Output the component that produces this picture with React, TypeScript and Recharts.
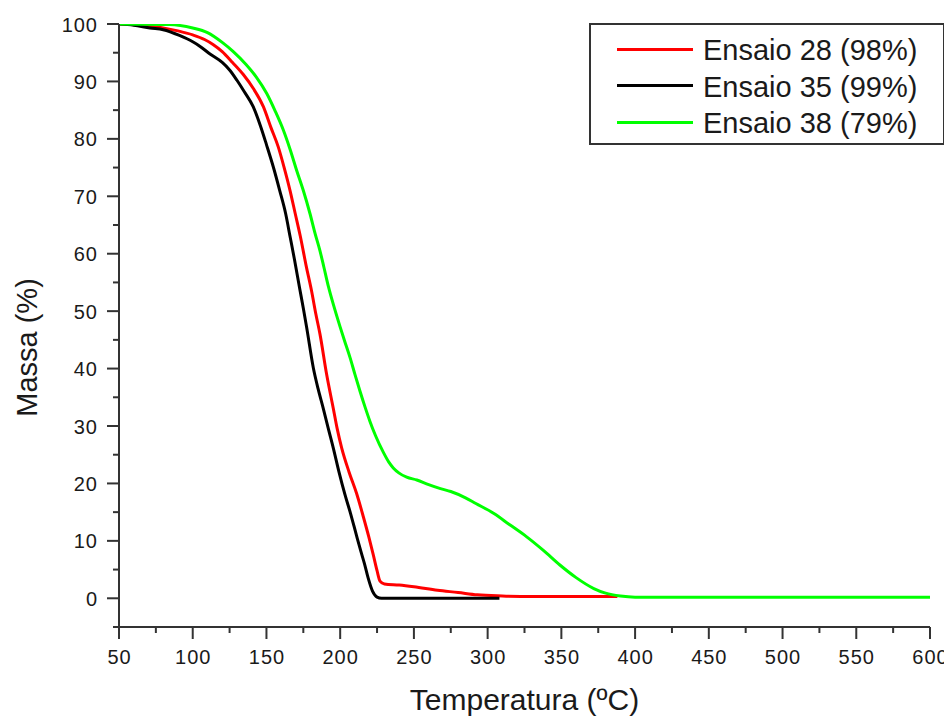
import React from 'react';
import { LineChart, Line, XAxis, YAxis, Legend, Label } from 'recharts';

const ensaio28T = [50, 70, 90, 100, 108, 114, 120, 127, 134.3, 141, 147.9, 153, 158, 162, 166, 169.5, 173, 177, 180.6, 183.5, 186.3, 190.8, 195.3, 198, 201, 206, 211.2, 215.7, 219.5, 222.5, 225, 227, 230, 240, 250, 266, 280, 293, 310, 330, 388];
const ensaio28M = [100, 99.7, 98.8, 98.1, 97.3, 96.4, 95.2, 93.3, 91.2, 88.8, 85.6, 82, 78.6, 75, 71, 67, 63, 57.8, 53.5, 49.5, 46, 39, 33.1, 29.5, 26.2, 22, 18.2, 14.2, 10.6, 7.5, 4.8, 3, 2.5, 2.3, 2.0, 1.4, 1.0, 0.6, 0.4, 0.3, 0.3];

const ensaio35T = [50, 60, 71, 80, 91, 100, 105, 111, 120, 125, 130, 135, 141, 146, 150, 155, 159, 163, 166, 169, 172.5, 175, 177.3, 181.8, 185, 188.6, 192, 195.3, 199, 203.3, 207, 211, 214, 216.5, 219, 222, 225, 228, 308];
const ensaio35M = [100, 99.8, 99.3, 99, 98, 96.9, 96.1, 94.9, 93.3, 92, 90.2, 88.2, 85.6, 82.2, 79, 74.8, 71, 67, 63, 59, 54, 50.5, 47.1, 40.1, 36.5, 33, 29.5, 26.2, 22.2, 18, 14.8, 11, 8.2, 6, 3.5, 1.2, 0.2, 0, 0];

const ensaio38T = [50, 84, 100, 110, 120, 127.5, 136, 143, 150.2, 156, 161.5, 166, 170.5, 175, 179.5, 183, 186.3, 189, 192, 196, 199.9, 203, 206.7, 210, 213.4, 217, 220.2, 224, 229.3, 233, 236, 240, 245.1, 252, 260, 268, 275, 285, 292, 304, 315, 326.5, 338, 349, 360, 372, 380, 390, 400, 600];
const ensaio38M = [100, 99.9, 99.3, 98.5, 96.8, 95.2, 93, 90.8, 87.9, 84.8, 81.5, 78.2, 74.5, 71, 67, 63.5, 60.5, 57.6, 54.3, 50.6, 47.3, 44.8, 41.9, 39, 36.1, 33.2, 30.8, 28.3, 25.4, 23.7, 22.7, 21.8, 21.1, 20.6, 19.8, 19.1, 18.6, 17.5, 16.5, 14.8, 12.8, 10.7, 8.3, 5.8, 3.6, 1.7, 0.9, 0.4, 0.2, 0.2];

const seriesNames = ['Ensaio 28 (98%)', 'Ensaio 35 (99%)', 'Ensaio 38 (79%)'];
const seriesColors = ['#ff0000', '#000000', '#00ff00'];

const xTicks = [50, 75, 100, 125, 150, 175, 200, 225, 250, 275, 300, 325, 350, 375, 400, 425, 450, 475, 500, 525, 550, 575, 600];
const yTicks = [-5, 0, 5, 10, 15, 20, 25, 30, 35, 40, 45, 50, 55, 60, 65, 70, 75, 80, 85, 90, 95, 100];

const toPoints = (ts: number[], ms: number[]) => ts.map((t, i) => ({ t, m: ms[i] }));
const seriesData = [
  toPoints(ensaio28T, ensaio28M),
  toPoints(ensaio35T, ensaio35M),
  toPoints(ensaio38T, ensaio38M),
];

const FONT = '"Liberation Sans", Arial, sans-serif';
const TEXT = '#1a1a1a';
const AXIS = '#333333';

const YTick = (props: any) => {
  const { x, y, payload } = props;
  const v = payload.value;
  const major = v % 10 === 0;
  return (
    <g>
      <line x1={x - (major ? 12 : 6)} x2={x} y1={y} y2={y} stroke={AXIS} strokeWidth={2} />
      {major && (
        <text x={x - 21} y={y} dy={7.5} textAnchor="end" fontSize={20} fill={TEXT} fontFamily={FONT} letterSpacing={1}>
          {v}
        </text>
      )}
    </g>
  );
};

const XTick = (props: any) => {
  const { x, y, payload } = props;
  const v = payload.value;
  const major = v % 50 === 0;
  return (
    <g>
      <line x1={x} x2={x} y1={y} y2={y + (major ? 12 : 6)} stroke={AXIS} strokeWidth={2} />
      {major && (
        <text x={x + 0.5} y={y} dy={37} textAnchor="middle" fontSize={20} fill={TEXT} fontFamily={FONT} letterSpacing={1}>
          {v}
        </text>
      )}
    </g>
  );
};

const LegendBox = () => (
  <div
    style={{
      position: 'relative',
      width: 356,
      height: 122,
      boxSizing: 'border-box',
      border: `2px solid ${AXIS}`,
      background: '#fff',
      fontFamily: FONT,
    }}
  >
    {seriesNames.map((name, i) => {
      const cy = 24 + i * 36.5;
      return (
        <React.Fragment key={name}>
          <div style={{ position: 'absolute', left: 26, top: cy - 1.5, width: 76, height: 3, background: seriesColors[i] }} />
          <div
            style={{
              position: 'absolute',
              left: 112,
              top: cy - 17,
              fontSize: 29,
              lineHeight: '36px',
              color: TEXT,
              whiteSpace: 'nowrap',
            }}
          >
            {name}
          </div>
        </React.Fragment>
      );
    })}
  </div>
);

export default function App() {
  return (
    <LineChart width={944} height={710} margin={{ top: 16, right: 22, left: 0, bottom: 0 }}>
      <XAxis
        dataKey="t"
        type="number"
        domain={[50, 600]}
        ticks={xTicks}
        interval={0}
        allowDataOverflow
        height={91}
        tickSize={0}
        tickMargin={0}
        tickLine={false}
        axisLine={{ stroke: AXIS, strokeWidth: 2 }}
        tick={<XTick />}
      >
        <Label
          content={(p: any) => {
            const vb = p.viewBox;
            return (
              <text x={vb.x + vb.width / 2} y={vb.y + 83} textAnchor="middle" fontSize={30} fill={TEXT} fontFamily={FONT}>
                Temperatura (ºC)
              </text>
            );
          }}
        />
      </XAxis>
      <YAxis
        dataKey="m"
        type="number"
        domain={[-5, 100]}
        ticks={yTicks}
        interval={0}
        allowDataOverflow
        width={111}
        tickSize={0}
        tickMargin={0}
        tickLine={false}
        axisLine={{ stroke: AXIS, strokeWidth: 2 }}
        tick={<YTick />}
      >
        <Label
          content={(p: any) => {
            const vb = p.viewBox;
            const cx = 29;
            const cy = vb.y + vb.height / 2 + 22;
            return (
              <text x={cx} y={cy} transform={`rotate(-90 ${cx} ${cy})`} textAnchor="middle" fontSize={29} fill={TEXT} fontFamily={FONT}>
                Massa (%)
              </text>
            );
          }}
        />
      </YAxis>
      <Legend
        layout="horizontal"
        verticalAlign="middle"
        align="center"
        wrapperStyle={{ left: 581, top: 15, width: 356, height: 122 }}
        content={() => <LegendBox />}
      />
      {seriesData.map((d, i) => (
        <Line
          key={seriesNames[i]}
          data={d}
          dataKey="m"
          name={seriesNames[i]}
          type="monotone"
          stroke={seriesColors[i]}
          strokeWidth={3}
          dot={false}
          activeDot={false}
          isAnimationActive={false}
        />
      ))}
    </LineChart>
  );
}
